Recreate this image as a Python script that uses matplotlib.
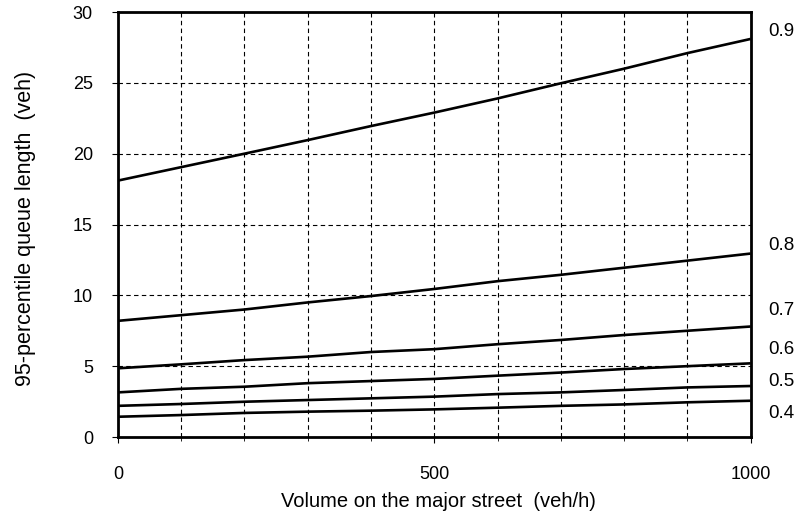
import matplotlib
matplotlib.use("Agg")
import matplotlib.pyplot as plt
from matplotlib.ticker import MultipleLocator

plt.rcParams['font.family'] = ['Liberation Sans', 'DejaVu Sans']

volume = [0, 100, 200, 300, 400, 500, 600, 700, 800, 900, 1000]
q09 = [18.1, 19.05, 20.0, 20.96, 21.95, 22.9, 23.9, 24.97, 26.0, 27.1, 28.1]
q08 = [8.2, 8.6, 9.0, 9.5, 9.95, 10.45, 11.0, 11.45, 11.95, 12.45, 12.95]
q07 = [4.85, 5.13, 5.43, 5.67, 6.0, 6.2, 6.55, 6.85, 7.2, 7.5, 7.8]
q06 = [3.15, 3.4, 3.55, 3.8, 3.95, 4.1, 4.33, 4.55, 4.8, 5.0, 5.2]
q05 = [2.2, 2.33, 2.49, 2.61, 2.73, 2.85, 3.03, 3.15, 3.32, 3.5, 3.6]
q04 = [1.43, 1.55, 1.7, 1.79, 1.86, 1.95, 2.07, 2.2, 2.3, 2.45, 2.56]
series = [q09, q08, q07, q06, q05, q04]
labels = ["0.9", "0.8", "0.7", "0.6", "0.5", "0.4"]
label_y = [28.6, 13.55, 8.96, 6.21, 3.95, 1.69]

fig = plt.figure(figsize=(8.02, 5.25), dpi=100)
ax = fig.add_axes([0.147, 0.1676, 0.789, 0.8095])

for s in series:
    ax.plot(volume, s, color='black', lw=1.9, solid_capstyle='butt')

ax.set_xlim(0, 1000)
ax.set_ylim(0, 30)
ax.xaxis.set_major_locator(MultipleLocator(500))
ax.xaxis.set_minor_locator(MultipleLocator(100))
ax.yaxis.set_major_locator(MultipleLocator(5))
ax.grid(True, which='both', axis='x', color='black', linestyle=(0, (4, 3)), lw=0.8)
ax.grid(True, which='major', axis='y', color='black', linestyle=(0, (4, 3)), lw=0.8)
ax.tick_params(axis='x', which='major', direction='out', length=4, pad=17, labelsize=13)
ax.tick_params(axis='x', which='minor', direction='out', length=3)
ax.tick_params(axis='y', which='major', direction='out', length=4, pad=14, labelsize=13)
for sp in ax.spines.values():
    sp.set_linewidth(2)
    sp.set_color('black')

for lab, y in zip(labels, label_y):
    ax.text(1027, y, lab, fontsize=13.5, va='center', ha='left', clip_on=False)

ax.set_xlabel("Volume on the major street  (veh/h)", fontsize=14.5)
ax.xaxis.set_label_coords(0.507, -0.129)
ax.set_ylabel("95-percentile queue length  (veh)", fontsize=15.5)
ax.yaxis.set_label_coords(-0.13, 0.49)

fig.savefig("out.png", dpi=100)
